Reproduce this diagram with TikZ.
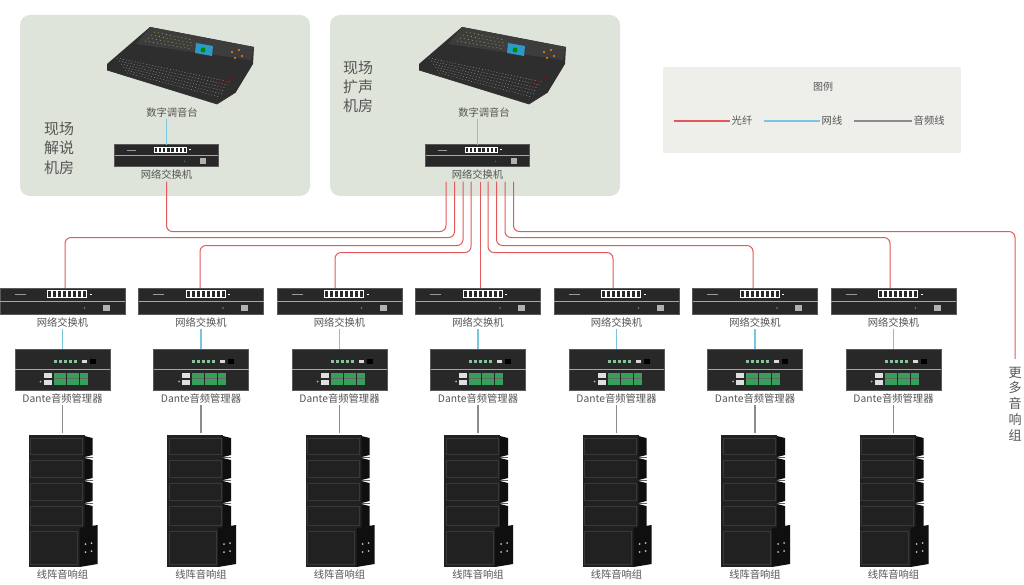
\documentclass[tikz,border=0pt]{standalone}
\usepackage{fontspec}
\setmainfont{Noto Sans CJK SC}
\usetikzlibrary{positioning}

\definecolor{roomgreen}{RGB}{222,228,218}
\definecolor{legendgray}{RGB}{238,239,234}
\definecolor{fiberred}{RGB}{226,88,92}
\definecolor{netblue}{RGB}{120,198,222}
\definecolor{audiogray}{RGB}{140,140,140}
\definecolor{txtgray}{RGB}{85,85,85}
\definecolor{boxdark}{RGB}{40,40,40}
\definecolor{termgreen}{RGB}{52,160,90}

\begin{document}
\begin{tikzpicture}[x=1pt, y=-1pt,
  fiber/.style={fiberred, line width=1pt, rounded corners=6pt},
  net/.style={netblue, line width=1.2pt},
  audio/.style={audiogray, line width=1.2pt},
  lbl/.style={text=txtgray, font=\fontsize{10.3}{12}\selectfont, inner sep=1.5pt},
  roomtxt/.style={text=txtgray, font=\fontsize{15}{19.5}\selectfont, align=center},
  swbox/.style={draw=gray!70!black, fill=boxdark, line width=.5pt, minimum width=125pt, minimum height=26pt, inner sep=0pt},
  dantebox/.style={draw=gray!70!black, fill=boxdark, line width=.5pt, minimum width=95pt, minimum height=41pt, inner sep=0pt},
  spkbox/.style={minimum width=70pt, minimum height=134pt, inner sep=0pt}]

\fill[white] (0,0) rectangle (1024,585);
\useasboundingbox (0,0) rectangle (1024,585);

% control rooms
\fill[roomgreen, rounded corners=10pt] (20,15) rectangle (310,196);
\fill[roomgreen, rounded corners=10pt] (330,15) rectangle (620,196);
\node[roomtxt] (rooma) at (59,148) {现场\\解说\\机房};
\node[roomtxt, font=\fontsize{15}{19}\selectfont] (roomb) at (358,87) {现场\\扩声\\机房};

% mixing consoles
\foreach \n/\cx in {a/172, b/484} {
  \begin{scope}[shift={(\cx,0)}]
    \fill[black!82] (-65,64) -- (-22,27) -- (82,47) -- (81,64) -- (64,92) -- (45,104) -- (-65,70) -- cycle;
    \fill[black!76] (-22,27) -- (82,47) -- (79,60) -- (-36,44) -- cycle;
    \foreach \k in {0,...,5}
      \draw[gray!70, line width=.4pt, dash pattern=on 1pt off 2pt] (-55+\k*2,58+\k*3) -- (58-\k*2,82+\k*3);
    \foreach \k in {0,...,3}
      \draw[yellow!60!gray, line width=.4pt, dash pattern=on 1pt off 3pt] (-18-\k*3,32+\k*3) -- (20,40+\k*3);
    \fill[cyan!55!teal] (24,43) -- (41,46) -- (40,56) -- (23,53) -- cycle;
    \fill[green!55!black] (31,50) circle (2.5);
    \fill[orange] (60,52) circle (1.2) (63,58) circle (1.2) (67,50) circle (1.2) (70,56) circle (1.2);
    \fill[red!60!black] (48,84) circle (1) (54,81) circle (1) (60,78) circle (1);
    \draw[gray!40!black, line width=.7pt] (-65,70) -- (45,104) -- (64,92);
    \node[lbl] (mix\n) at (0,113) {数字调音台};
  \end{scope}
}

% network switches
\foreach \n/\x/\y/\s in {swa/166.5/155.5/.83, swb/477.5/155.5/.83, sw1/62.5/301/1, sw2/201/301/1, sw3/339.5/301/1, sw4/478/301/1, sw5/616.5/301/1, sw6/755/301/1, sw7/893.5/301/1} {
  \begin{scope}[shift={(\x,\y)}, scale=\s]
    \node[swbox, transform shape] (\n) at (0,0) {};
    \draw[gray!70, line width=.7pt] (-62.5,0) -- (62.5,0);
    \draw[gray!80, line width=1pt] (-48,-6.5) -- (-37,-6.5);
    \foreach \p in {0,...,7}
      \draw[white, line width=.4pt] (-15+\p*5,-10.5) rectangle ++(4,7);
    \draw[white, line width=.4pt] (27,-7) -- (29,-7);
    \fill[gray] (22,7) circle (.8);
    \fill[gray!60] (40,3.5) rectangle (47,10);
  \end{scope}
  \node[lbl, below=2pt of \n] (\n-lbl) {网络交换机};
}
\draw[net] (mixa.south -| swa.north) -- (swa.north);
\draw[net] (mixb.south -| swb.north) -- (swb.north);

% fibres
\draw[fiber] (swa-lbl.south) |- ([xshift=-31.5pt, yshift=-50pt]swb-lbl.south) -- ([xshift=-31.5pt]swb-lbl.south);
\foreach \i/\dx/\h/\e in {1/-23/56/2.5, 2/-14.5/64/-1, 3/-6.5/71/-4.5, 5/10.5/71/-3.5, 6/19/64/-2, 7/27.5/56/-3.5}
  \draw[fiber] ([xshift=\dx pt]swb-lbl.south) -- ++(0,\h) -| ([xshift=\e pt]sw\i.north);
\draw[fiber] ([xshift=2.5pt]swb-lbl.south) -- ([xshift=2pt]sw4.north);
\node[text=txtgray, font=\fontsize{13}{15.75}\selectfont, align=center, inner xsep=1pt, inner ysep=8pt] (more) at (1015,404) {更\\多\\音\\响\\组};
\draw[fiber] ([xshift=36pt]swb-lbl.south) -- ++(0,50) -| (more.north);

% dante units and speakers
\foreach \i/\x in {1/62.5, 2/201, 3/339.5, 4/478, 5/616.5, 6/755, 7/893.5} {
  \begin{scope}[shift={(\x,369.5)}]
    \node[dantebox] (dt\i) at (0,0) {};
    \draw[gray!70, line width=.7pt] (-47.5,0) -- (47.5,0);
    \foreach \p in {0,...,4}
      \fill[termgreen!60!white] (-9+\p*5,-10) rectangle ++(3,3);
    \fill[gray!30] (19,-10) rectangle ++(5,3);
    \fill[black] (27,-11) rectangle ++(6,5);
    \fill[gray!25] (-19,3) rectangle (-11,8.5);
    \fill[gray!25] (-19,10) rectangle (-11,15.5);
    \fill[gray!60] (-22,12) circle (1);
    \foreach \a/\b in {-9/3, 4/16, 17/25} {
      \fill[termgreen] (\a,3) rectangle (\b,15);
      \draw[black!60, line width=.4pt] (\a,9) -- (\b,9);
    }
  \end{scope}
  \node[lbl, below=2pt of dt\i] (dt\i-lbl) {Dante音频管理器};
  \begin{scope}[shift={(\x,0)}]
    \node[spkbox] (spk\i) at (0,500) {};
    \foreach \t/\b in {435/457, 457/480, 480/503, 503/528} {
      \fill[black!87] (-34,\t) rectangle (22,\b);
      \fill[black!94] (22,\t+1) -- (30,\t+3) -- (30,\b-2) -- (22,\b) -- cycle;
      \draw[black!78, line width=.4pt] (-32,\t+3) rectangle (20,\b-3);
      \draw[black!62, line width=.5pt] (-34,\b) -- (30,\b);
    }
    \fill[black!87] (-34,528) rectangle (17,567);
    \fill[black!94] (17,528) -- (35,525) -- (35,564) -- (17,567) -- cycle;
    \draw[black!78, line width=.4pt] (-32,531) rectangle (15,564);
    \fill[gray!50] (23,544) circle (1) (29,543) circle (1) (23,552) circle (1) (29,551) circle (1);
  \end{scope}
  \node[lbl, below=1pt of spk\i] (spk\i-lbl) {线阵音响组};
  \draw[net] (sw\i-lbl.south) -- (dt\i.north);
  \draw[audio] (dt\i-lbl.south) -- (spk\i.north);
}

% legend
\fill[legendgray] (663,67) rectangle (961,153);
\node[lbl, font=\fontsize{10}{12}\selectfont] (lgtitle) at (823,87) {图例};
\node[lbl, anchor=west] (lgfiber) at (730,121) {光纤};
\draw[fiber, line width=1.8pt] (674,121) -- (lgfiber.west);
\node[lbl, anchor=west] (lgnet) at (820,121) {网线};
\draw[net, line width=1.8pt] (764,121) -- (lgnet.west);
\node[lbl, anchor=west] (lgaudio) at (912,121) {音频线};
\draw[audio, line width=1.8pt] (854,121) -- (lgaudio.west);
\end{tikzpicture}
\end{document}
